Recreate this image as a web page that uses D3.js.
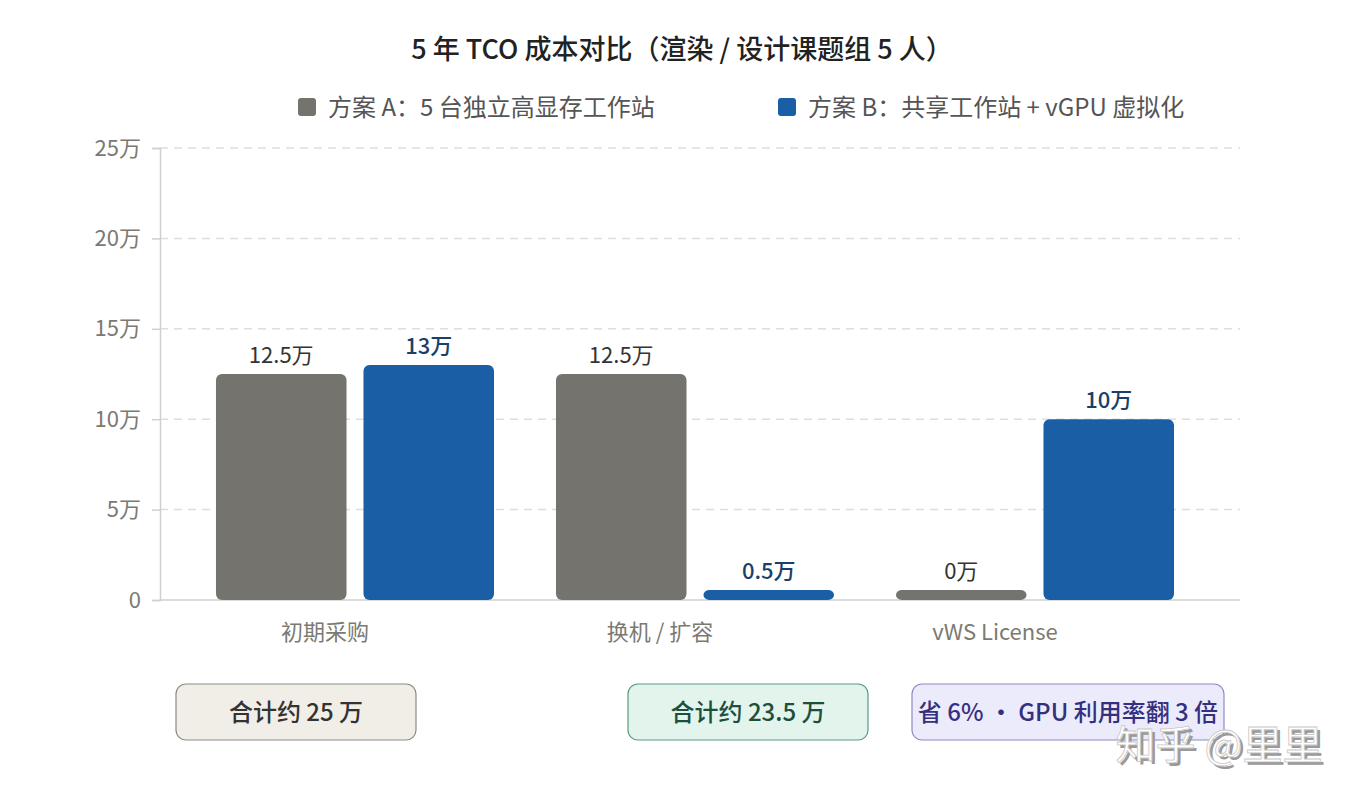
<!DOCTYPE html>
<html>
<head>
<meta charset="utf-8">
<script src="https://cdn.jsdelivr.net/npm/d3@7"></script>
<style>
  body { margin: 0; background: #fff; }
  svg { font-family: "Noto Sans CJK SC", "Noto Sans", sans-serif; }
</style>
</head>
<body>
<div id="container"></div>
<script>
// DATA
const categories = ["初期采购", "换机 / 扩容", "vWS License"];
const seriesNames = ["方案 A：5 台独立高显存工作站", "方案 B：共享工作站 + vGPU 虚拟化"];
const planA = [12.5, 12.5, 0];
const planB = [13, 0.5, 10];
const yTicks = [0, 5, 10, 15, 20, 25];
const summaries = ["合计约 25 万", "合计约 23.5 万", "省 6% · GPU 利用率翻 3 倍"];

// CONSTANTS
const width = 1360, height = 800;
const margin = { top: 148, bottom: 200, left: 160, right: 120 };
const colors = ["#74736e", "#1a5ea6"];
const labelColors = ["#333333", "#1b3f6b"];

const svg = d3.select("#container").append("svg")
  .attr("width", width)
  .attr("height", height);

// SCALES
const x0 = d3.scaleBand()
  .domain(categories)
  .range([185, 1205]);

const x1 = d3.scaleBand()
  .domain([0, 1])
  .range([0, x0.bandwidth()])
  .paddingInner(0.115)
  .paddingOuter(0.21);

const yScale = d3.scaleLinear()
  .domain([0, 25])
  .range([height - margin.bottom, margin.top]);

// TITLE
svg.append("text")
  .attr("x", 682).attr("y", 59)
  .attr("text-anchor", "middle")
  .attr("font-size", 27).attr("font-weight", 500)
  .attr("fill", "#222")
  .text("5 年 TCO 成本对比（渲染 / 设计课题组 5 人）");

// LEGEND
const legendX = [298, 778];
const legend = svg.append("g").selectAll("g")
  .data(seriesNames)
  .join("g")
  .attr("transform", (d, i) => `translate(${legendX[i]}, 107)`);
legend.append("rect")
  .attr("x", 0).attr("y", -9).attr("width", 18).attr("height", 18)
  .attr("rx", 3).attr("fill", (d, i) => colors[i]);
legend.append("text")
  .attr("x", 30).attr("y", 9)
  .attr("font-size", 24).attr("fill", "#555")
  .text(d => d);

// GRID
svg.append("g")
  .selectAll("line")
  .data(yTicks.filter(d => d > 0))
  .join("line")
  .attr("x1", margin.left).attr("x2", width - margin.right)
  .attr("y1", d => yScale(d)).attr("y2", d => yScale(d))
  .attr("stroke", "#dedede")
  .attr("stroke-width", 1.5)
  .attr("stroke-dasharray", "8,6");

// AXES
const yAxis = d3.axisLeft(yScale)
  .tickValues(yTicks)
  .tickSize(8)
  .tickFormat(d => d === 0 ? "0" : d + "万");
const yAxisGroup = svg.append("g")
  .attr("transform", `translate(${margin.left}, 0)`)
  .call(yAxis);
yAxisGroup.select(".domain").attr("stroke", "#d0d0d0").attr("stroke-width", 1.5);
yAxisGroup.selectAll(".tick line").attr("stroke", "#d0d0d0").attr("stroke-width", 1.5);
yAxisGroup.selectAll(".tick text")
  .attr("font-size", 22).attr("fill", "#7a7a72")
  .attr("font-family", "\"Noto Sans CJK SC\", sans-serif")
  .attr("x", -19);

svg.append("line")
  .attr("x1", margin.left).attr("x2", width - margin.right)
  .attr("y1", yScale(0)).attr("y2", yScale(0))
  .attr("stroke", "#d0d0d0").attr("stroke-width", 1.5);

svg.append("g").selectAll("text")
  .data(categories)
  .join("text")
  .attr("x", (d, i) => x0(d) + x0.bandwidth() / 2 - 30 - i * 5)
  .attr("y", 640)
  .attr("text-anchor", "middle")
  .attr("font-size", 22).attr("fill", "#7a7a72")
  .text(d => d);

// BARS
const minBarH = 10;
const rows = [];
categories.forEach((c, i) => {
  rows.push({ cat: c, s: 0, v: planA[i] });
  rows.push({ cat: c, s: 1, v: planB[i] });
});
const barTop = d => Math.min(yScale(d.v), yScale(0) - minBarH);

svg.append("g").selectAll("rect")
  .data(rows)
  .join("rect")
  .attr("x", d => x0(d.cat) + x1(d.s))
  .attr("y", barTop)
  .attr("width", x1.bandwidth())
  .attr("height", d => yScale(0) - barTop(d))
  .attr("rx", 6)
  .attr("fill", d => colors[d.s]);

svg.append("g").selectAll("text")
  .data(rows)
  .join("text")
  .attr("x", d => x0(d.cat) + x1(d.s) + x1.bandwidth() / 2)
  .attr("y", d => barTop(d) - 11)
  .attr("text-anchor", "middle")
  .attr("font-size", 22)
  .attr("font-weight", d => d.s === 1 ? 500 : 400)
  .attr("fill", d => labelColors[d.s])
  .text(d => d.v + "万");

// SUMMARY BOXES
const boxes = [
  { x: 176, w: 240, fill: "#f1eee8", stroke: "#8a8a86", color: "#333333" },
  { x: 628, w: 240, fill: "#e2f4ec", stroke: "#5a9a82", color: "#1f4e3d" },
  { x: 912, w: 312, fill: "#ecebfb", stroke: "#8f8ac4", color: "#34307f" }
];
const boxG = svg.append("g").selectAll("g")
  .data(summaries)
  .join("g");
boxG.append("rect")
  .attr("x", (d, i) => boxes[i].x).attr("y", 684)
  .attr("width", (d, i) => boxes[i].w).attr("height", 56)
  .attr("rx", 10)
  .attr("fill", (d, i) => boxes[i].fill)
  .attr("stroke", (d, i) => boxes[i].stroke)
  .attr("stroke-width", 1.2);
boxG.append("text")
  .attr("x", (d, i) => boxes[i].x + boxes[i].w / 2)
  .attr("y", 721)
  .attr("text-anchor", "middle")
  .attr("font-size", 24).attr("font-weight", 500)
  .attr("fill", (d, i) => boxes[i].color)
  .text(d => d);

// WATERMARK
const wm = svg.append("g");
wm.append("text")
  .attr("x", 1222).attr("y", 762)
  .attr("text-anchor", "middle")
  .attr("font-size", 40)
  .attr("fill", "#9a9a9a")
  .text("知乎 @里里");
wm.append("text")
  .attr("x", 1219).attr("y", 759)
  .attr("text-anchor", "middle")
  .attr("font-size", 40)
  .attr("fill", "#ffffff")
  .attr("stroke", "#c8c8c8")
  .attr("stroke-width", 0.8)
  .text("知乎 @里里");
</script>
</body>
</html>
